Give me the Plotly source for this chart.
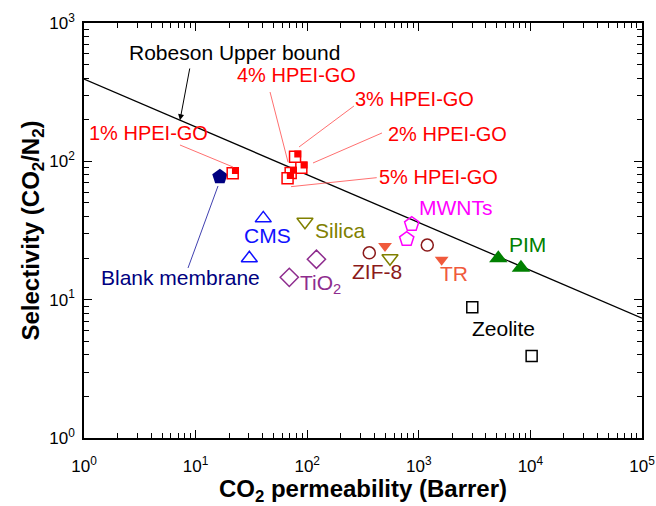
import plotly.graph_objects as go

# ---------------- data ----------------
robeson_x = [1, 1e5]
robeson_y = [393, 7.35]

hpei_labels = ['1% HPEI-GO', '2% HPEI-GO', '3% HPEI-GO', '4% HPEI-GO', '5% HPEI-GO']
hpei_x = [21.5, 88.6, 77.8, 71.1, 66.7]
hpei_y = [81.9, 90.0, 108.0, 82.4, 75.4]

blank_x = [16.5]
blank_y = [77.4]
cms_x = [40.4, 30.3]
cms_y = [38.7, 19.9]
silica_x = [95.5, 552]
silica_y = [36.6, 19.9]
tio2_x = [121, 69.1]
tio2_y = [19.6, 14.5]
zif8_x = [360, 1191]
zif8_y = [21.8, 24.8]
tr_x = [498, 1603]
tr_y = [24.4, 19.4]
mwnt_x = [864, 779]
mwnt_y = [35.1, 27.4]
pim_x = [5157, 8226]
pim_y = [19.9, 17.0]
zeolite_x = [3015, 10260]
zeolite_y = [8.81, 3.92]

x_tickvals = [1, 10, 100, 1000, 10000, 100000]
x_ticktext = ['10<sup>0</sup>', '10<sup>1</sup>', '10<sup>2</sup>', '10<sup>3</sup>', '10<sup>4</sup>', '10<sup>5</sup>']
y_tickvals = [1, 10, 100, 1000]
y_ticktext = ['10<sup>0</sup>', '10<sup>1</sup>', '10<sup>2</sup>', '10<sup>3</sup>']
x_minor = [k * 10 ** d for d in range(5) for k in range(2, 10)]
y_minor = [k * 10 ** d for d in range(3) for k in range(2, 10)]

FONT = 'Liberation Sans, Arial, sans-serif'

fig = go.Figure()

# Robeson upper bound
fig.add_trace(go.Scatter(x=robeson_x, y=robeson_y, mode='lines',
                         line=dict(color='black', width=1.3), hoverinfo='skip'))

def add_pts(x, y, symbol, color, size, lw=1.5):
    fig.add_trace(go.Scatter(x=x, y=y, mode='markers',
                             marker=dict(symbol=symbol, size=size, color=color,
                                         line=dict(width=lw, color=color))))

add_pts(cms_x, cms_y, 'triangle-up-open', '#1010ff', 14)
add_pts(silica_x, silica_y, 'triangle-down-open', '#808000', 14)
add_pts(tio2_x, tio2_y, 'diamond-open', '#8E2C8E', 14)
add_pts(zif8_x, zif8_y, 'circle-open', '#8B1A1A', 12)
add_pts(tr_x, tr_y, 'triangle-down', '#F05A3C', 12, 0)
add_pts(mwnt_x, mwnt_y, 'pentagon-open', '#FF00FF', 15)
add_pts(pim_x, pim_y, 'triangle-up', '#008000', 16, 0)
add_pts(zeolite_x, zeolite_y, 'square-open', 'black', 11)
add_pts(blank_x, blank_y, 'pentagon', '#000080', 16, 0)

# HPEI-GO: half-filled squares (white square with red border + red top half)
fig.add_trace(go.Scatter(x=hpei_x, y=hpei_y, mode='markers', text=hpei_labels,
                         marker=dict(symbol='square', size=11, color='white',
                                     line=dict(width=1.5, color='#ff0000'))))
for xv, yv in zip(hpei_x, hpei_y):
    fig.add_shape(type='rect', xref='x', yref='y', xsizemode='pixel', ysizemode='pixel',
                  xanchor=xv, yanchor=yv, x0=-5.5, x1=5.5, y0=0, y1=5.5,
                  fillcolor='#ff0000', line=dict(color='#ff0000', width=1.5))

# text labels (positions in log10 axis units)
labels = [
    ('Robeson Upper bound', 1.353, 2.790, 'black', 21),
    ('4% HPEI-GO', 1.900, 2.624, '#ff0000', 20),
    ('3% HPEI-GO', 2.957, 2.451, '#ff0000', 20),
    ('2% HPEI-GO', 3.253, 2.198, '#ff0000', 20),
    ('5% HPEI-GO', 3.172, 1.887, '#ff0000', 20),
    ('1% HPEI-GO', 0.578, 2.205, '#ff0000', 20),
    ('Blank membrane', 0.862, 1.163, '#000080', 21),
    ('CMS', 1.644, 1.464, '#1010ff', 21),
    ('Silica', 2.294, 1.500, '#808000', 21),
    ('TiO<sub>2</sub>', 2.120, 1.115, '#8E2C8E', 21),
    ('ZIF-8', 2.625, 1.207, '#8B1A1A', 21),
    ('TR', 3.315, 1.186, '#F05A3C', 21),
    ('MWNTs', 3.333, 1.663, '#FF00FF', 21),
    ('PIM', 3.978, 1.402, '#008000', 21),
    ('Zeolite', 3.763, 0.788, 'black', 21),
]
for t, lx, ly, c, s in labels:
    fig.add_annotation(x=lx, y=ly, xref='x', yref='y', text=t, showarrow=False,
                       font=dict(family=FONT, size=s, color=c))

# leader lines (start -> end, log10 axis units), drawn as line shapes
leaders = [
    (1.667, 2.501, 1.828, 1.995, '#ff7070'),
    (2.419, 2.400, 1.927, 2.104, '#ff7070'),
    (2.670, 2.205, 2.052, 1.988, '#ff7070'),
    (2.623, 1.882, 1.855, 1.817, '#ff7070'),
    (0.860, 2.118, 1.335, 1.959, '#ff7070'),
    (0.932, 1.229, 1.201, 1.822, '#4040b0'),
]
for x0, y0, x1, y1, c in leaders:
    fig.add_shape(type='line', xref='x', yref='y', x0=10 ** x0, y0=10 ** y0,
                  x1=10 ** x1, y1=10 ** y1, line=dict(color=c, width=1))

# Robeson arrow
fig.add_annotation(x=0.860, y=2.297, ax=0.950, ay=2.682, xref='x', yref='y', axref='x', ayref='y',
                   text='', showarrow=True, arrowhead=2, arrowsize=1.2, arrowwidth=1, arrowcolor='black')

axis_common = dict(type='log', showline=True, linecolor='black', linewidth=1.5, mirror='allticks',
                   ticks='inside', ticklen=8, tickwidth=1.3, tickcolor='black',
                   showgrid=False, zeroline=False,
                   tickfont=dict(family=FONT, size=17, color='black'))

fig.update_layout(
    template='none',
    width=656, height=506,
    margin=dict(l=84, r=14, t=23, b=68),
    plot_bgcolor='white', paper_bgcolor='white',
    showlegend=False,
    font=dict(family=FONT, color='black'),
    xaxis=dict(axis_common, range=[0, 5], tickmode='array', tickvals=x_tickvals, ticktext=x_ticktext,
               ticklabelstandoff=12,
               minor=dict(tickmode='array', tickvals=x_minor, ticks='inside', ticklen=5,
                          tickwidth=1.1, tickcolor='black', showgrid=False),
               title=dict(text='<b>CO<sub>2</sub> permeability (Barrer)</b>',
                          font=dict(family=FONT, size=24, color='black'), standoff=12)),
    yaxis=dict(axis_common, range=[0, 3], tickmode='array', tickvals=y_tickvals, ticktext=y_ticktext,
               ticklabelstandoff=4,
               minor=dict(tickmode='array', tickvals=y_minor, ticks='inside', ticklen=5,
                          tickwidth=1.1, tickcolor='black', showgrid=False),
               title=dict(text='<b>Selectivity (CO<sub>2</sub>/N<sub>2</sub>)</b>',
                          font=dict(family=FONT, size=24, color='black'), standoff=3)),
)

fig.write_html('out.html')
